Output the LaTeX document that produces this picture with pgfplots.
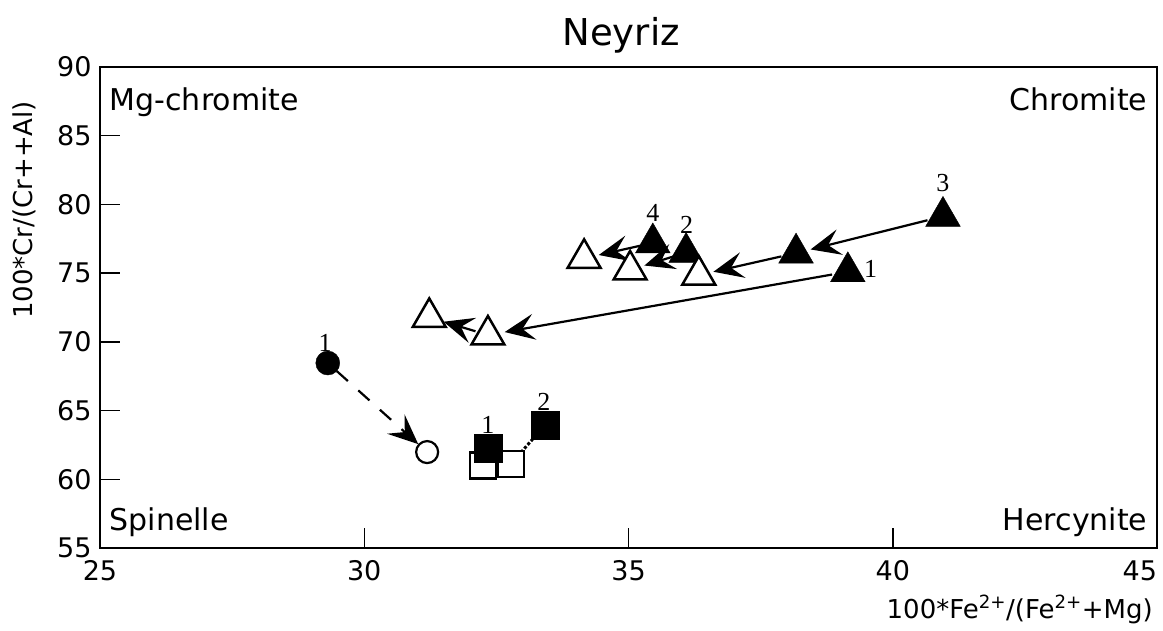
\documentclass[border=0pt]{standalone}
\usepackage{pgfplots}
\pgfplotsset{compat=1.18}
\usepackage{fontspec}
\setmainfont{DejaVu Sans}
\newfontfamily\numfont{Liberation Serif}
\usetikzlibrary{arrows.meta,calc}

\pgfplotstableread{
x y
39.15 75.10
40.95 79.13
36.09 76.50
35.46 77.20
38.17 76.46
}\filledtri
\pgfplotstableread{
x y
34.16 76.08
35.03 75.23
36.33 74.86
31.23 71.78
32.34 70.50
}\opentri

\tikzset{myhead/.tip={Stealth[length=30pt,width=26pt,inset=12pt]}}

\begin{document}
\begin{tikzpicture}
\begin{axis}[
  width=1057pt, height=481pt, scale only axis,
  xmin=25, xmax=45, ymin=55, ymax=90,
  xtick={25,30,35,40,45}, ytick={55,60,...,90},
  xticklabels={25,30,35,40,{\makebox[0pt][r]{45}}},
  tick align=inside, xtick pos=bottom, ytick pos=left,
  major tick length=20pt,
  every tick/.style={line width=1.5pt, black},
  axis line style={line width=2pt},
  ticklabel style={font=\fontsize{27}{30}\selectfont},
  /pgf/number format/assume math mode=true,
  xticklabel style={yshift=-9pt},
  yticklabel style={xshift=-5pt},
  clip=false,
]
\coordinate (SW) at (rel axis cs:0,0);
\coordinate (NE) at (rel axis cs:1,1);

% arrows
\addplot[line width=2.2pt, -myhead, shorten <=16pt, shorten >=17pt] coordinates {(39.15,75.10) (32.34,70.50)};
\addplot[line width=2.2pt, -myhead, shorten <=16pt, shorten >=15pt] coordinates {(40.95,79.13) (38.17,76.46)};
\addplot[line width=2.2pt, -myhead, shorten <=15pt, shorten >=15pt] coordinates {(38.17,76.46) (36.33,74.86)};
\addplot[line width=2.2pt, -myhead, shorten <=13pt, shorten >=15pt] coordinates {(32.34,70.50) (31.23,71.78)};
\addplot[line width=2.2pt, -myhead, shorten <=12pt, shorten >=15pt] coordinates {(36.09,76.50) (35.03,75.23)};
\addplot[line width=2.2pt, -myhead, shorten <=12pt, shorten >=15pt] coordinates {(35.46,77.20) (34.16,76.08)};
\addplot[line width=2.2pt, dash pattern=on 15pt off 14pt, -myhead, shorten <=12pt, shorten >=12pt] coordinates {(29.31,68.46) (31.19,61.98)};
\addplot[line width=3pt, dotted] coordinates {(32.78,61.14) (33.42,63.95)};

% markers
\addplot[only marks, mark=triangle*, mark size=20pt, mark options={fill=black, draw=black}] table {\filledtri};
\addplot[only marks, mark=triangle*, mark size=19pt, mark options={fill=white, draw=black, line width=2.5pt}] table {\opentri};
\addplot[only marks, mark=*, mark size=12pt, mark options={fill=black, draw=black}] coordinates {(29.31,68.46)};
\addplot[only marks, mark=*, mark size=11pt, mark options={fill=white, draw=black, line width=2.2pt}] coordinates {(31.19,61.98)};
\addplot[only marks, mark=square*, mark size=13pt, mark options={fill=white, draw=black, line width=2.2pt}] coordinates {(32.25,61.00) (32.78,61.14)};
\addplot[only marks, mark=square*, mark size=14pt, mark options={fill=black, draw=black}] coordinates {(32.34,62.27) (33.42,63.95)};

% point numbers
\begin{scope}[every node/.style={font=\numfont\fontsize{26}{26}\selectfont, inner sep=0pt}]
\node at (axis cs:29.26,69.9) {1};
\node at (axis cs:32.34,63.94) {1};
\node at (axis cs:33.40,65.60) {2};
\node at (axis cs:35.46,79.37) {4};
\node at (axis cs:36.10,78.50) {2};
\node at (axis cs:40.95,81.56) {3};
\node at (axis cs:39.58,75.30) {1};
\end{scope}

% region labels
\begin{scope}[every node/.style={font=\fontsize{30}{30}\selectfont, inner sep=0pt}]
\node[anchor=base west] at (axis cs:25.18,86.87) {Mg-chromite};
\node[anchor=base east] at (axis cs:44.82,86.87) {Chromite};
\node[anchor=base west] at (axis cs:25.18,56.30) {Spinelle};
\node[anchor=base east] at (axis cs:44.82,56.30) {Hercynite};
\end{scope}

% title and axis labels
\node[anchor=base, inner sep=0pt, yshift=22pt, font=\fontsize{37}{37}\selectfont] at (rel axis cs:0.493,1) {Neyriz};
\node[anchor=base east, inner sep=0pt, xshift=-4pt, yshift=-70pt, font=\fontsize{26}{26}\selectfont] at (rel axis cs:1,0) {100*Fe\textsuperscript{2+}/(Fe\textsuperscript{2+}+Mg)};
\node[xshift=-76pt, rotate=90, anchor=center, inner sep=0pt, font=\fontsize{26}{26}\selectfont] at (rel axis cs:0,0.703) {100*Cr/(Cr++Al)};
\end{axis}
\pgfresetboundingbox
\path ($(SW)+(-100pt,-82pt)$) rectangle ($(NE)+(6pt,67pt)$);
\end{tikzpicture}
\end{document}
